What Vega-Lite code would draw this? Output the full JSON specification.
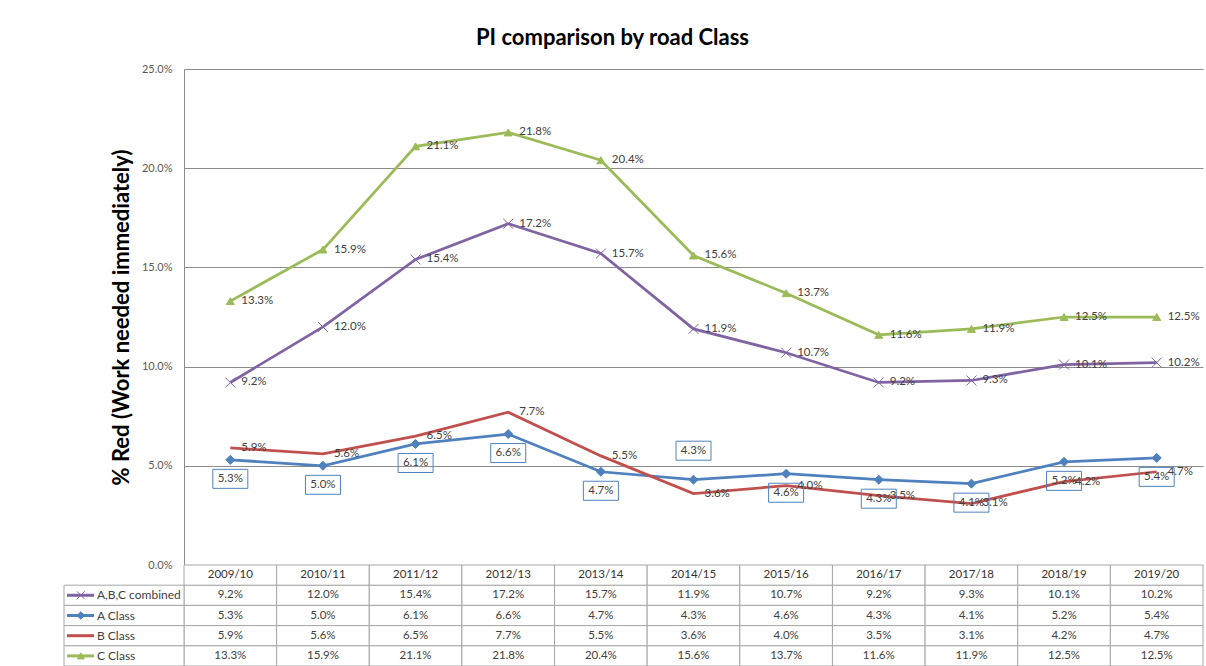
{
  "$schema": "https://vega.github.io/schema/vega-lite/v6.json",
  "padding": {"left": 63, "top": 27, "right": 0, "bottom": 0},
  "background": "white",
  "config": {
    "font": "Lato",
    "view": {"stroke": null},
    "title": {"fontSize": 22, "fontWeight": "bold", "font": "Lato", "color": "#000000", "anchor": "middle", "offset": 13, "dx": -21}
  },
  "title": "PI comparison by road Class",
  "datasets": {
    "pi": [
      {"year": "2009/10", "series": "A,B,C combined", "value": 0.092},
      {"year": "2010/11", "series": "A,B,C combined", "value": 0.120},
      {"year": "2011/12", "series": "A,B,C combined", "value": 0.154},
      {"year": "2012/13", "series": "A,B,C combined", "value": 0.172},
      {"year": "2013/14", "series": "A,B,C combined", "value": 0.157},
      {"year": "2014/15", "series": "A,B,C combined", "value": 0.119},
      {"year": "2015/16", "series": "A,B,C combined", "value": 0.107},
      {"year": "2016/17", "series": "A,B,C combined", "value": 0.092},
      {"year": "2017/18", "series": "A,B,C combined", "value": 0.093},
      {"year": "2018/19", "series": "A,B,C combined", "value": 0.101},
      {"year": "2019/20", "series": "A,B,C combined", "value": 0.102},
      {"year": "2009/10", "series": "A Class", "value": 0.053},
      {"year": "2010/11", "series": "A Class", "value": 0.050},
      {"year": "2011/12", "series": "A Class", "value": 0.061},
      {"year": "2012/13", "series": "A Class", "value": 0.066},
      {"year": "2013/14", "series": "A Class", "value": 0.047},
      {"year": "2014/15", "series": "A Class", "value": 0.043},
      {"year": "2015/16", "series": "A Class", "value": 0.046},
      {"year": "2016/17", "series": "A Class", "value": 0.043},
      {"year": "2017/18", "series": "A Class", "value": 0.041},
      {"year": "2018/19", "series": "A Class", "value": 0.052},
      {"year": "2019/20", "series": "A Class", "value": 0.054},
      {"year": "2009/10", "series": "B Class", "value": 0.059},
      {"year": "2010/11", "series": "B Class", "value": 0.056},
      {"year": "2011/12", "series": "B Class", "value": 0.065},
      {"year": "2012/13", "series": "B Class", "value": 0.077},
      {"year": "2013/14", "series": "B Class", "value": 0.055},
      {"year": "2014/15", "series": "B Class", "value": 0.036},
      {"year": "2015/16", "series": "B Class", "value": 0.040},
      {"year": "2016/17", "series": "B Class", "value": 0.035},
      {"year": "2017/18", "series": "B Class", "value": 0.031},
      {"year": "2018/19", "series": "B Class", "value": 0.042},
      {"year": "2019/20", "series": "B Class", "value": 0.047},
      {"year": "2009/10", "series": "C Class", "value": 0.133},
      {"year": "2010/11", "series": "C Class", "value": 0.159},
      {"year": "2011/12", "series": "C Class", "value": 0.211},
      {"year": "2012/13", "series": "C Class", "value": 0.218},
      {"year": "2013/14", "series": "C Class", "value": 0.204},
      {"year": "2014/15", "series": "C Class", "value": 0.156},
      {"year": "2015/16", "series": "C Class", "value": 0.137},
      {"year": "2016/17", "series": "C Class", "value": 0.116},
      {"year": "2017/18", "series": "C Class", "value": 0.119},
      {"year": "2018/19", "series": "C Class", "value": 0.125},
      {"year": "2019/20", "series": "C Class", "value": 0.125}
    ]
  },
  "spacing": 0,
  "bounds": "flush",
  "resolve": {"scale": {"x": "independent", "y": "independent", "color": "independent", "shape": "independent", "fill": "independent", "stroke": "independent", "size": "independent"}},
  "vconcat": [
    {
      "width": 1019,
      "height": 496,
      "data": {"name": "pi"},
      "encoding": {
        "x": {"field": "year", "type": "ordinal", "axis": null, "scale": {"type": "point", "padding": 0.5}},
        "y": {"field": "value", "type": "quantitative", "scale": {"domain": [0, 0.25], "nice": false},
          "axis": {"values": [0, 0.05, 0.1, 0.15, 0.2, 0.25], "format": ".1%", "title": "% Red (Work needed immediately)",
            "titleFontSize": 22, "titleFontWeight": "bold", "titleColor": "#000000", "titlePadding": 8, "titleFont": "Lato",
            "labelFontSize": 11, "labelColor": "#595959", "labelPadding": 12, "ticks": false,
            "grid": true, "gridColor": "#8c8c8c", "gridWidth": 1, "domain": true, "domainColor": "#8c8c8c"}}
      },
      "layer": [
        {
          "mark": {"type": "line", "strokeWidth": 2.75},
          "encoding": {
            "color": {"field": "series", "type": "nominal", "legend": null,
              "scale": {"domain": ["A,B,C combined", "A Class", "B Class", "C Class"], "range": ["#8064A2", "#4F81BD", "#C0504D", "#9BBB59"]}}
          }
        },
        {
          "transform": [{"filter": "datum.series !== 'B Class'"}],
          "mark": {"type": "point", "filled": true, "opacity": 1, "strokeWidth": 1},
          "encoding": {
            "shape": {"field": "series", "type": "nominal", "legend": null,
              "scale": {"domain": ["A,B,C combined", "A Class", "C Class"], "range": ["M-1,-1L1,1M-1,1L1,-1", "diamond", "triangle-up"]}},
            "size": {"field": "series", "type": "nominal", "legend": null,
              "scale": {"domain": ["A,B,C combined", "A Class", "C Class"], "range": [100, 64, 110]}},
            "fill": {"field": "series", "type": "nominal", "legend": null,
              "scale": {"domain": ["A,B,C combined", "A Class", "C Class"], "range": ["#8064A2", "#4F81BD", "#9BBB59"]}},
            "stroke": {"field": "series", "type": "nominal", "legend": null,
              "scale": {"domain": ["A,B,C combined", "A Class", "C Class"], "range": ["#8064A2", "#4F81BD", "#9BBB59"]}}
          }
        },
        {
          "transform": [{"filter": "datum.series !== 'A Class'"}],
          "mark": {"type": "text", "align": "left", "baseline": "middle", "dx": 11, "fontSize": 11.5, "fill": "#404040"},
          "encoding": {"text": {"field": "value", "type": "quantitative", "format": ".1%"}}
        },
        {
          "transform": [{"filter": "datum.series === 'A Class' && datum.year !== '2014/15'"}],
          "mark": {"type": "point", "shape": "M-1.75,-0.95H1.75V0.95H-1.75Z", "size": 400, "filled": false, "stroke": "#4F81BD", "strokeWidth": 1, "opacity": 1, "yOffset": 19}
        },
        {
          "transform": [{"filter": "datum.series === 'A Class' && datum.year === '2014/15'"}],
          "mark": {"type": "point", "shape": "M-1.75,-0.95H1.75V0.95H-1.75Z", "size": 400, "filled": false, "stroke": "#4F81BD", "strokeWidth": 1, "opacity": 1, "yOffset": -29}
        },
        {
          "transform": [{"filter": "datum.series === 'A Class' && datum.year !== '2014/15'"}],
          "mark": {"type": "text", "align": "center", "baseline": "middle", "dy": 19, "fontSize": 11.5, "fill": "#404040"},
          "encoding": {"text": {"field": "value", "type": "quantitative", "format": ".1%"}}
        },
        {
          "transform": [{"filter": "datum.series === 'A Class' && datum.year === '2014/15'"}],
          "mark": {"type": "text", "align": "center", "baseline": "middle", "dy": -29, "fontSize": 11.5, "fill": "#404040"},
          "encoding": {"text": {"field": "value", "type": "quantitative", "format": ".1%"}}
        }
      ]
    },
    {
      "width": 1019,
      "height": 101,
      "data": {"name": "pi"},
      "resolve": {"scale": {"x": "independent"}},
      "layer": [
        {
          "mark": {"type": "rect", "fill": "white", "stroke": "#a6a6a6", "strokeWidth": 1},
          "encoding": {
            "x": {"field": "year", "type": "ordinal", "axis": null, "scale": {"type": "band", "paddingInner": 0, "paddingOuter": 0}},
            "y": {"field": "series", "type": "nominal", "axis": null, "scale": {"domain": ["hdr", "A,B,C combined", "A Class", "B Class", "C Class"], "paddingInner": 0, "paddingOuter": 0}}
          }
        },
        {
          "transform": [{"filter": "datum.series === 'A Class'"}],
          "mark": {"type": "rect", "fill": "white", "stroke": "#a6a6a6", "strokeWidth": 1},
          "encoding": {
            "x": {"field": "year", "type": "ordinal", "axis": null, "scale": {"type": "band", "paddingInner": 0, "paddingOuter": 0}},
            "y": {"datum": "hdr", "type": "nominal"}
          }
        },
        {
          "mark": {"type": "text", "fontSize": 11.5, "fill": "#404040", "baseline": "middle", "align": "center"},
          "encoding": {
            "x": {"field": "year", "type": "ordinal", "axis": null, "scale": {"type": "band", "paddingInner": 0, "paddingOuter": 0}},
            "y": {"field": "series", "type": "nominal"},
            "text": {"field": "value", "type": "quantitative", "format": ".1%"}
          }
        },
        {
          "transform": [{"filter": "datum.series === 'A Class'"}],
          "mark": {"type": "text", "fontSize": 11.5, "fill": "#333333", "baseline": "middle", "align": "center"},
          "encoding": {
            "x": {"field": "year", "type": "ordinal", "axis": null, "scale": {"type": "band", "paddingInner": 0, "paddingOuter": 0}},
            "y": {"datum": "hdr", "type": "nominal"},
            "text": {"field": "year", "type": "nominal"}
          }
        },
        {
          "transform": [{"filter": "datum.year === '2009/10'"}],
          "mark": {"type": "rect", "fill": "white", "stroke": "#a6a6a6", "strokeWidth": 1},
          "encoding": {
            "x": {"datum": -1, "type": "quantitative", "axis": null, "scale": {"domain": [0, 8.4917], "zero": false, "nice": false}},
            "x2": {"datum": 0},
            "y": {"field": "series", "type": "nominal"}
          }
        },
        {
          "transform": [{"filter": "datum.year === '2009/10'"}],
          "mark": {"type": "text", "fontSize": 12, "fill": "#404040", "baseline": "middle", "align": "left"},
          "encoding": {
            "x": {"datum": -0.725, "type": "quantitative", "axis": null, "scale": {"domain": [0, 8.4917], "zero": false, "nice": false}},
            "y": {"field": "series", "type": "nominal"},
            "text": {"field": "series", "type": "nominal"}
          }
        },
        {
          "transform": [{"filter": "datum.year === '2009/10'"}],
          "mark": {"type": "rule", "strokeWidth": 3},
          "encoding": {
            "x": {"datum": -0.975, "type": "quantitative", "axis": null, "scale": {"domain": [0, 8.4917], "zero": false, "nice": false}},
            "x2": {"datum": -0.75},
            "y": {"field": "series", "type": "nominal"},
            "color": {"field": "series", "type": "nominal", "legend": null,
              "scale": {"domain": ["A,B,C combined", "A Class", "B Class", "C Class"], "range": ["#8064A2", "#4F81BD", "#C0504D", "#9BBB59"]}}
          }
        },
        {
          "transform": [{"filter": "datum.year === '2009/10' && datum.series !== 'B Class'"}],
          "mark": {"type": "point", "filled": true, "opacity": 1, "strokeWidth": 1},
          "encoding": {
            "x": {"datum": -0.86, "type": "quantitative", "axis": null, "scale": {"domain": [0, 8.4917], "zero": false, "nice": false}},
            "y": {"field": "series", "type": "nominal"},
            "shape": {"field": "series", "type": "nominal", "legend": null,
              "scale": {"domain": ["A,B,C combined", "A Class", "C Class"], "range": ["M-1,-1L1,1M-1,1L1,-1", "diamond", "triangle-up"]}},
            "size": {"field": "series", "type": "nominal", "legend": null,
              "scale": {"domain": ["A,B,C combined", "A Class", "C Class"], "range": [64, 49, 81]}},
            "fill": {"field": "series", "type": "nominal", "legend": null,
              "scale": {"domain": ["A,B,C combined", "A Class", "C Class"], "range": ["#8064A2", "#4F81BD", "#9BBB59"]}},
            "stroke": {"field": "series", "type": "nominal", "legend": null,
              "scale": {"domain": ["A,B,C combined", "A Class", "C Class"], "range": ["#8064A2", "#4F81BD", "#9BBB59"]}}
          }
        }
      ]
    }
  ]
}
